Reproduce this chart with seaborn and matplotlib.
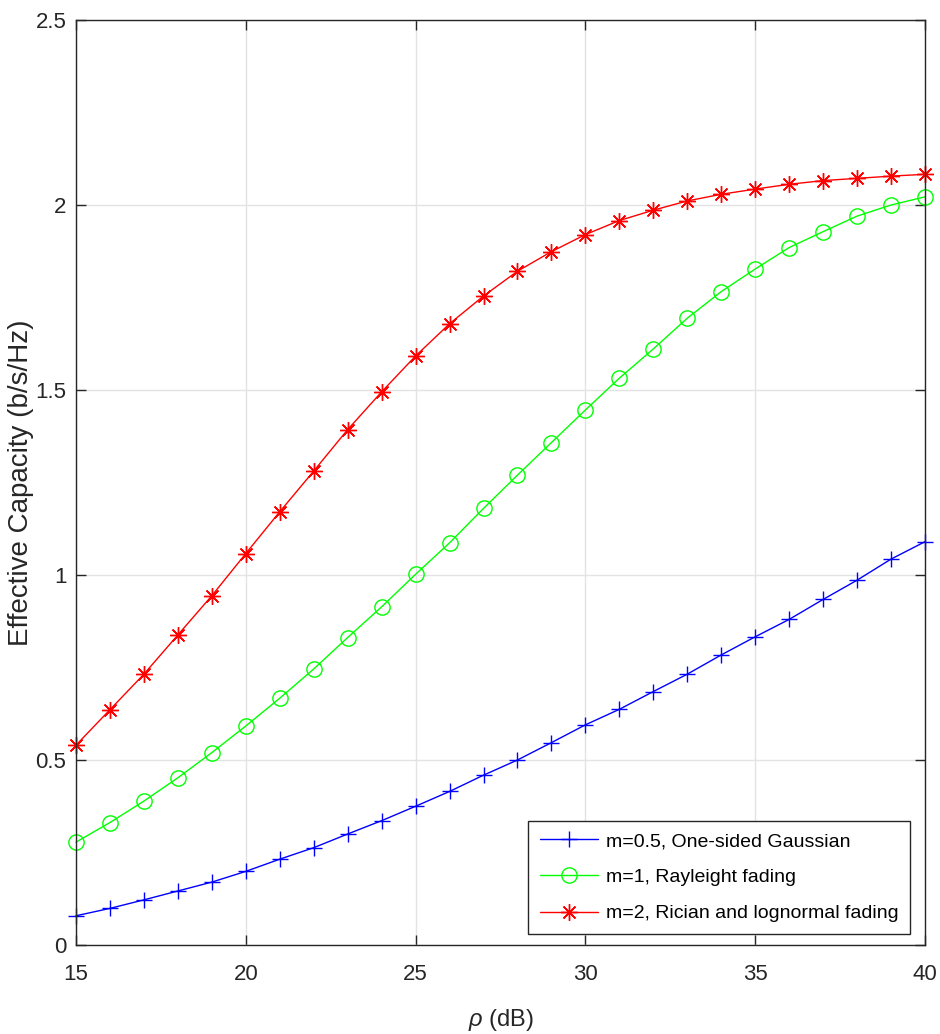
import numpy as np
import pandas as pd
import matplotlib
matplotlib.use("Agg")
import matplotlib.pyplot as plt
import seaborn as sns

# SNR grid (dB) and effective capacity (b/s/Hz) for each Nakagami-m case
rho_db = list(range(15, 41))
ec_gaussian = [0.079, 0.099, 0.122, 0.146, 0.170, 0.199, 0.232, 0.263, 0.300, 0.336,
               0.375, 0.415, 0.459, 0.500, 0.547, 0.595, 0.637, 0.685, 0.732, 0.784,
               0.833, 0.880, 0.934, 0.986, 1.043, 1.090]
ec_rayleigh = [0.278, 0.331, 0.389, 0.452, 0.520, 0.592, 0.667, 0.746, 0.831, 0.914,
               1.002, 1.087, 1.180, 1.270, 1.358, 1.446, 1.532, 1.611, 1.694, 1.766,
               1.827, 1.885, 1.928, 1.970, 2.000, 2.022]
ec_rician = [0.540, 0.636, 0.732, 0.838, 0.944, 1.058, 1.171, 1.281, 1.393, 1.495,
             1.592, 1.679, 1.754, 1.821, 1.874, 1.920, 1.958, 1.986, 2.011, 2.029,
             2.043, 2.056, 2.066, 2.072, 2.078, 2.083]
series_labels = ["m=0.5, One-sided Gaussian",
                 "m=1, Rayleight fading",
                 "m=2, Rician and lognormal fading"]
x_ticks = [15, 20, 25, 30, 35, 40]
y_ticks = [0, 0.5, 1, 1.5, 2, 2.5]
y_tick_labels = ["0", "0.5", "1", "1.5", "2", "2.5"]

sns.set_style("ticks")
plt.rcParams["font.family"] = ["Liberation Sans", "DejaVu Sans"]
plt.rcParams["mathtext.fontset"] = "custom"
plt.rcParams["mathtext.it"] = "Liberation Sans:italic"

axis_col = "#262626"

fig = plt.figure(figsize=(9.4, 10.34), dpi=100)
ax = fig.add_axes([76 / 940, 1 - 945 / 1034, (925 - 76) / 940, (945 - 20) / 1034])

styles = [
    dict(color="#0000ff", marker="+", markersize=12, markerfacecolor="none"),
    dict(color="#00ff00", marker="o", markersize=11, markerfacecolor="none"),
    dict(color="#ff0000", marker=(8, 2, 0), markersize=12, markerfacecolor="none"),
]
for vals, lab, st in zip([ec_gaussian, ec_rayleigh, ec_rician], series_labels, styles):
    df = pd.DataFrame({"rho": rho_db, "ec": vals})
    sns.lineplot(data=df, x="rho", y="ec", ax=ax, label=lab, linewidth=1.0,
                 markeredgecolor=st["color"], markeredgewidth=1.0, clip_on=False,
                 **st)

ax.set_xlim(15, 40)
ax.set_ylim(0, 2.5)
ax.set_xticks(x_ticks)
ax.set_yticks(y_ticks)
ax.set_yticklabels(y_tick_labels)
ax.grid(True, color="#e3e3e3", linewidth=1.0)
ax.set_axisbelow(True)

for s in ax.spines.values():
    s.set_visible(True)
    s.set_color(axis_col)
    s.set_linewidth(1.0)

ax.tick_params(axis="both", which="major", direction="in", length=7, width=1.0,
               color=axis_col, labelcolor=axis_col, labelsize=16,
               top=True, right=True)
ax.tick_params(axis="x", pad=14)
ax.tick_params(axis="y", pad=7)

ax.set_xlabel(r"$\rho$ (dB)", fontsize=17, color=axis_col)
ax.xaxis.set_label_coords(0.5, -0.067)
ax.set_ylabel("Effective Capacity (b/s/Hz)", fontsize=20, color=axis_col)
ax.yaxis.set_label_coords(-0.049, 0.5)

leg = ax.legend(loc="lower right", bbox_to_anchor=(0.9823, 0.0119), borderaxespad=0,
                fontsize=14, frameon=True, fancybox=False, framealpha=1,
                edgecolor=axis_col, handlelength=3.0, handletextpad=0.4,
                borderpad=0.6, labelspacing=0.95)
leg.get_frame().set_linewidth(1.0)
for t in leg.get_texts():
    t.set_color("black")

fig.savefig("out.png", dpi=100)
